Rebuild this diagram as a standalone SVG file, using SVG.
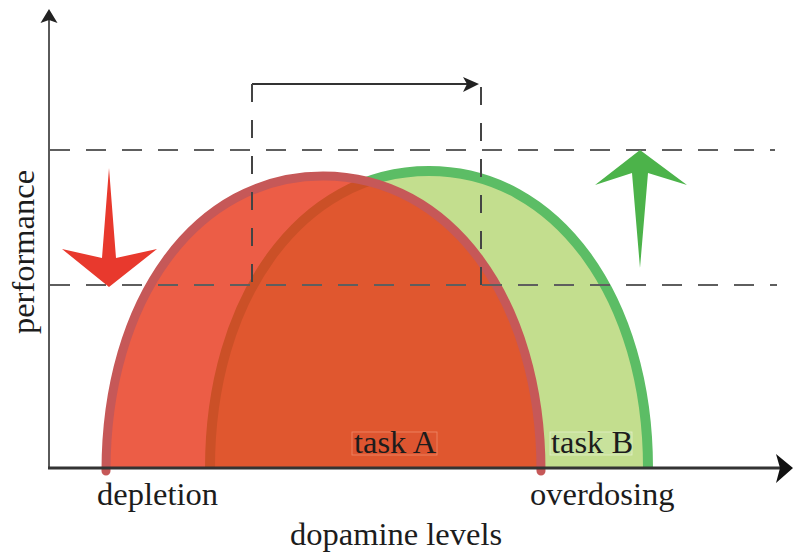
<svg xmlns="http://www.w3.org/2000/svg" width="794" height="556" viewBox="0 0 794 556">
<style>
.lbl{font-family:"Liberation Serif","Times New Roman",serif;font-size:32.5px;fill:#1c1c1c}
.dash{fill:none;stroke:#5e5e5e;stroke-width:2;stroke-dasharray:20 16}
.vdash{fill:none;stroke:#444;stroke-width:2;stroke-dasharray:18 18}
</style>
<rect width="794" height="556" fill="#ffffff"/>
<g id="taskB-curve">
<path d="M210,468 C210,300 300,171 429,171 C558,171 648,300 648,468 Z" fill="#c3de8e" stroke="none"/>
<path d="M210,468 C210,300 300,171 429,171 C558,171 648,300 648,468" fill="none" stroke="#5cbd65" stroke-width="10" stroke-linecap="butt"/>
</g>
<g id="taskA-curve">
<path d="M106,468 C106,300 196,176 323,176 C450,176 541,300 541,468 Z" fill="#e73418" fill-opacity="0.8" stroke="none"/>
<path d="M106,471 C106,300 196,176 323,176 C450,176 541,300 541,471" fill="none" stroke="#c65858" stroke-width="9" stroke-linecap="round"/>
</g>
<g id="connectors">
<path class="dash" d="M50,150 H775"/>
<path class="dash" d="M50,285 H777"/>
<path d="M252,84 H470" fill="none" stroke="#333" stroke-width="1.8"/>
<polygon points="479,84 463,77 467,84 463,92" fill="#222"/>
<path class="vdash" d="M252,84 V285"/>
<path class="vdash" d="M481,87 V285"/>
</g>
<g id="axes">
<path d="M49,468 V18" fill="none" stroke="#5a5a5a" stroke-width="2"/>
<polygon points="49,9 57.5,23 49,20 40.5,23" fill="#222"/>
<path d="M48,468 H780" fill="none" stroke="#333" stroke-width="3"/>
<polygon points="793,468 776,454 780,468 776,483" fill="#111"/>
</g>
<g id="red-arrow">
<polygon points="109,168 116,258 157,249 109,287 62,249 102,258" fill="#e8392d"/>
</g>
<g id="green-arrow">
<polygon points="640,150 687,185 648,173 640,268 632,173 595,185" fill="#4cb34a"/>
</g>
<g id="label-taskA">
<rect x="352" y="432" width="85" height="23" fill="#de5530" stroke="#f08a6a" stroke-width="0.8"/>
<text class="lbl" x="354" y="453">task A</text>
</g>
<g id="label-taskB">
<rect x="550" y="432" width="82" height="23" fill="#c8e29c" stroke="#e2efc9" stroke-width="0.8"/>
<text class="lbl" x="551" y="453">task B</text>
</g>
<g id="labels">
<text class="lbl" x="97" y="505">depletion</text>
<text class="lbl" x="530" y="505">overdosing</text>
<text class="lbl" x="290" y="545">dopamine levels</text>
<text class="lbl" text-anchor="middle" transform="translate(34,252) rotate(-90)">performance</text>
</g>
</svg>
